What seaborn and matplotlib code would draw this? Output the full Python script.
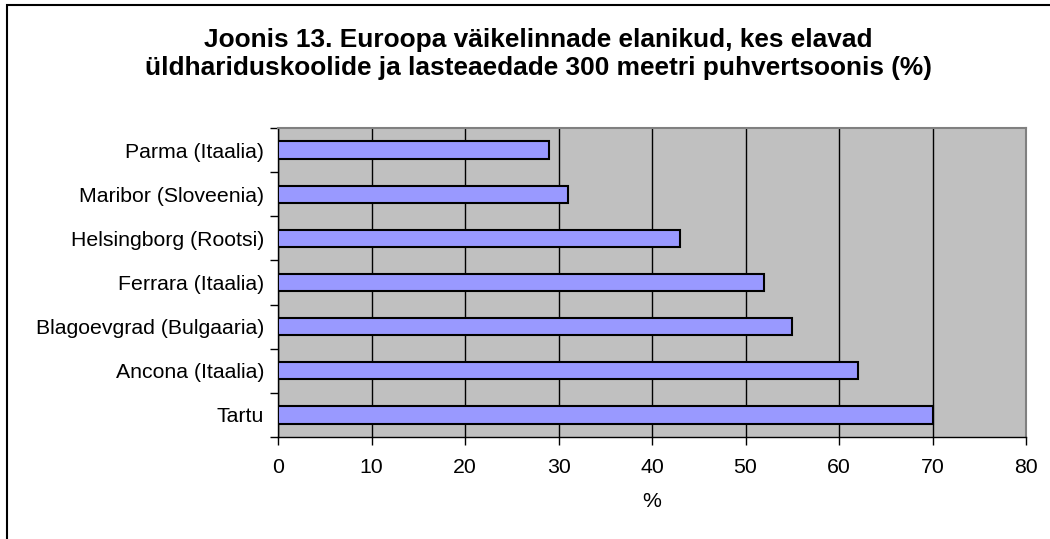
import matplotlib
matplotlib.use("Agg")
import matplotlib.pyplot as plt
from matplotlib.patches import Rectangle
from matplotlib.ticker import FixedLocator
import numpy as np
import pandas as pd
import seaborn as sns

cities = ["Parma (Itaalia)", "Maribor (Sloveenia)", "Helsingborg (Rootsi)",
          "Ferrara (Itaalia)", "Blagoevgrad (Bulgaaria)", "Ancona (Itaalia)", "Tartu"]
values = [29, 31, 43, 52, 55, 62, 70]
x_ticks = [0, 10, 20, 30, 40, 50, 60, 70, 80]
title = ("Joonis 13. Euroopa väikelinnade elanikud, kes elavad\n"
         "üldhariduskoolide ja lasteaedade 300 meetri puhvertsoonis (%)")
x_label = "%"

sns.set_style("white")
plt.rcParams["font.family"] = ["Liberation Sans", "DejaVu Sans"]
plt.rcParams["text.color"] = "black"
plt.rcParams["axes.labelcolor"] = "black"
plt.rcParams["xtick.color"] = "black"
plt.rcParams["ytick.color"] = "black"

df = pd.DataFrame({"city": cities, "value": values})

fig = plt.figure(figsize=(10.5, 5.39), dpi=100)
ax = fig.add_axes([278 / 1050, 1 - 437 / 539, (1026 - 278) / 1050, (437 - 128) / 539])
ax.set_facecolor("#C0C0C0")

sns.barplot(data=df, x="value", y="city", orient="h", color="#9999FF",
            edgecolor="black", linewidth=1.5, width=0.39, saturation=1, ax=ax, zorder=3)

ax.set_xlim(0, 80)
ax.set_ylim(len(cities) - 0.5, -0.5)
ax.xaxis.set_major_locator(FixedLocator(x_ticks))
ax.set_xticklabels([str(t) for t in x_ticks])
ax.grid(False)
ax.xaxis.grid(True, color="black", linewidth=1)
ax.set_axisbelow(True)

# y axis: labels at centres, tick marks at category boundaries
ax.tick_params(axis="y", which="major", length=0, pad=10, labelsize=15.3, labelcolor="black")
ax.yaxis.set_minor_locator(FixedLocator(np.arange(-0.5, len(cities), 1.0)))
ax.tick_params(axis="y", which="minor", length=6, width=1, direction="out", color="black", left=True)
ax.tick_params(axis="x", which="major", length=6, width=1, direction="out", pad=9,
               labelsize=15.3, labelcolor="black", color="black", bottom=True)

ax.set_ylabel("")
ax.set_xlabel(x_label, fontsize=15.3, labelpad=11, color="black")

for side in ["left", "bottom"]:
    ax.spines[side].set_color("black")
    ax.spines[side].set_linewidth(1)
for side in ["top", "right"]:
    ax.spines[side].set_visible(True)
    ax.spines[side].set_color("#808080")
    ax.spines[side].set_linewidth(1.5)

fig.text(0.513, 1 - 54 / 539, title, ha="center", va="center", fontsize=18.9,
         fontweight="bold", linespacing=1.22, color="black")

# chart frame (only left and top edges visible in the crop)
fig.patches.append(Rectangle((7 / 1050, -0.1), 1.2, 1 - 5 / 539 + 0.1, transform=fig.transFigure,
                             fill=False, edgecolor="black", linewidth=1.5, clip_on=False))

fig.savefig("out.png", dpi=100, facecolor="white")
